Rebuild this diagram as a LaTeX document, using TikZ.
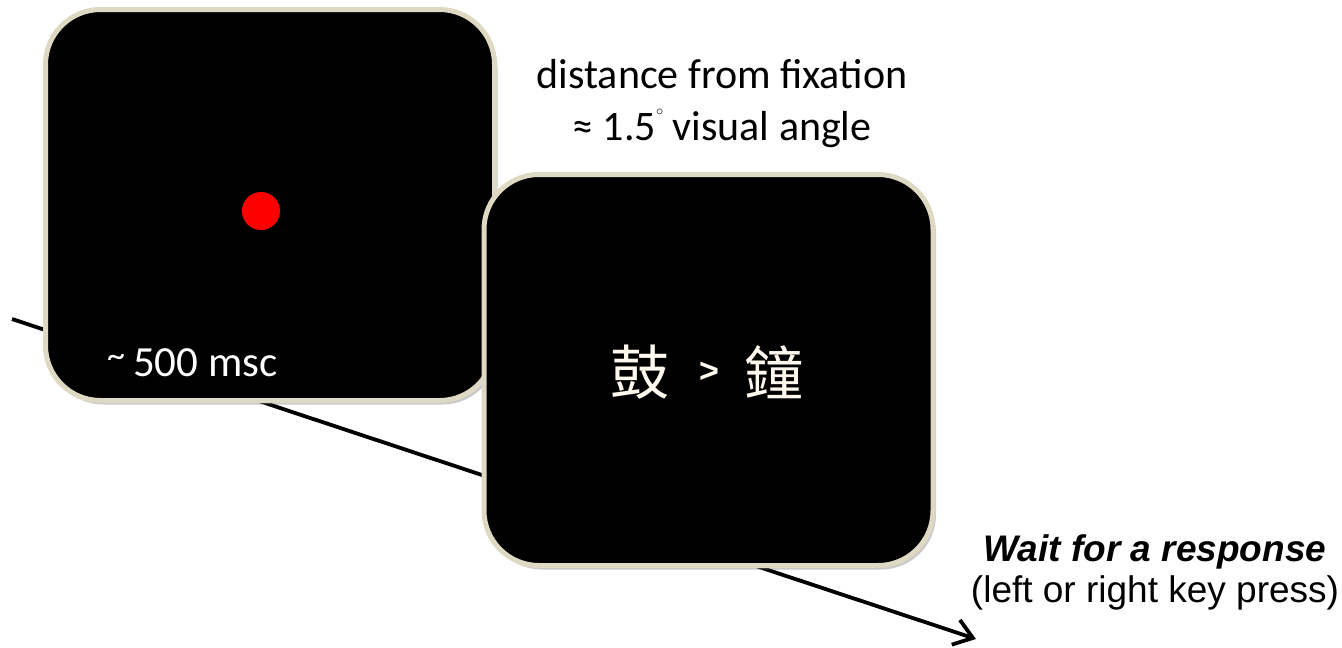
\documentclass[tikz,border=0pt]{standalone}
\usepackage{fontspec}
\setmainfont{Carlito}
\newfontfamily\arialfont{Liberation Sans}
\newfontfamily\cjkfont{Noto Sans CJK TC}
\usetikzlibrary{arrows.meta,shadows}
\definecolor{frame}{HTML}{DDD9C3}
\definecolor{cream}{HTML}{FFF8EE}
\tikzset{
  screen/.style={draw=frame, line width=5pt, fill=black, rounded corners=55pt,
    minimum width=449pt, minimum height=391pt, inner sep=0pt,
    drop shadow={shadow xshift=3pt, shadow yshift=-4pt, opacity=0.35, fill=black!60}},
  timeline/.style={line width=3.8pt, -{Straight Barb[length=18pt,width=26pt,line width=3.8pt]}},
  lbl/.style={font=\fontsize{42}{52}\selectfont, align=center, inner sep=0pt},
  hanzi/.style={text=cream, inner sep=0pt, font=\cjkfont\fontsize{59}{62}\selectfont},
}
\begin{document}
\begin{tikzpicture}[x=1pt,y=-1pt]
\useasboundingbox (0,0) rectangle (1342,648);
\coordinate (tstart) at (12,319);
\coordinate (tend) at (976,639);
\draw[timeline] (tstart) -- (tend);
\node[screen] (fix) at (270,205) {};
\node[circle, fill=red, minimum size=38pt, inner sep=0pt] (dot) at (261,211) {};
\node[anchor=base west, text=white, font=\fontsize{43}{48}\selectfont, inner sep=0pt] (dur) at (107,376) {\raisebox{9pt}{\fontsize{36}{36}\selectfont\char"7E}\hspace{8pt}500 msc};
\node[screen] (stim) at (708.5,370) {};
\node[hanzi] (w1) at (640,372) {鼓};
\node[text=cream, inner sep=0pt, font=\arialfont\bfseries\fontsize{34}{36}\selectfont] (gt) at (709,372) {>};
\node[hanzi] (w2) at (774,372) {鐘};
\node[lbl] (dist) at (722,104) {distance from fixation\\≈ 1.5\raisebox{0.6em}{\fontsize{14}{14}\selectfont$\circ$} visual angle};
\node[align=center, inner sep=0pt, font=\arialfont\fontsize{37}{41}\selectfont] (resp) at (1155,572) {\textbf{\textit{Wait for a response}}\\(left or right key press)};
\end{tikzpicture}
\end{document}
